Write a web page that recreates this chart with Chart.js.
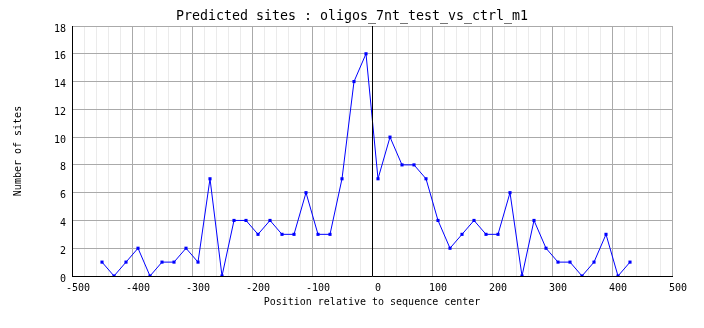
<!DOCTYPE html>
<html>
<head>
<meta charset="utf-8">
<script src="https://cdn.jsdelivr.net/npm/chart.js@4/dist/chart.umd.min.js"></script>
<style>
  html, body { margin: 0; padding: 0; background: #fff; }
  #wrap { width: 704px; height: 328px; }
</style>
</head>
<body>
<div id="wrap"><canvas id="sitesChart" width="704" height="328"></canvas></div>
<script>
"use strict";

// Window centers along the sequence (bp) and site counts per window
const positions = [
  -450, -430, -410, -390, -370, -350, -330, -310, -290, -270,
  -250, -230, -210, -190, -170, -150, -130, -110, -90, -70,
  -50, -30, -10, 10, 30, 50, 70, 90, 110, 130,
  150, 170, 190, 210, 230, 250, 270, 290, 310, 330,
  350, 370, 390, 410, 430
];
const siteCounts = [
  1, 0, 1, 2, 0, 1, 1, 2, 1, 7,
  0, 4, 4, 3, 4, 3, 3, 6, 3, 3,
  7, 14, 16, 7, 10, 8, 8, 7, 4, 2,
  3, 4, 3, 3, 6, 0, 4, 2, 1, 1,
  0, 1, 3, 0, 1
];

// Axis ranges and tick steps
const xRange = [-500, 500];
const xMinorStep = 20;
const xMajorStep = 100;
const yRange = [0, 18];
const yStep = 2;

const chartTitle = 'Predicted sites : oligos_7nt_test_vs_ctrl_m1';
const mono = "'DejaVu Sans Mono', 'Liberation Mono', monospace";

// Title centered on the whole canvas, not just the plot box
const pageTitle = {
  id: 'pageTitle',
  afterDraw(chart) {
    const { ctx, width } = chart;
    ctx.save();
    ctx.fillStyle = '#000';
    ctx.font = '13.3px ' + mono;
    ctx.textAlign = 'center';
    ctx.textBaseline = 'middle';
    ctx.fillText(chartTitle, width / 2, 17);
    ctx.restore();
  }
};

// Vertical black line marking the sequence center
const centerLine = {
  id: 'centerLine',
  afterDatasetsDraw(chart) {
    const { ctx, chartArea, scales } = chart;
    const px = Math.round(scales.x.getPixelForValue(0)) + 0.5;
    ctx.save();
    ctx.strokeStyle = '#000';
    ctx.lineWidth = 1;
    ctx.beginPath();
    ctx.moveTo(px, chartArea.top);
    ctx.lineTo(px, chartArea.bottom);
    ctx.stroke();
    ctx.restore();
  }
};

const ctx = document.getElementById('sitesChart').getContext('2d');
const chart = new Chart(ctx, {
  type: 'line',
  data: {
    datasets: [{
      data: positions.map((p, i) => ({ x: p, y: siteCounts[i] })),
      borderColor: '#0000ff',
      borderWidth: 1,
      backgroundColor: '#0000ff',
      pointStyle: 'rect',
      pointRadius: 2.2,
      pointBorderWidth: 0,
      pointBackgroundColor: '#0000ff',
      tension: 0,
      fill: false
    }]
  },
  options: {
    responsive: false,
    animation: false,
    layout: { padding: { left: 0, right: 32, top: 26, bottom: 0 } },
    plugins: {
      legend: { display: false },
      tooltip: { enabled: false },
      title: { display: false }
    },
    scales: {
      x: {
        type: 'linear',
        min: xRange[0],
        max: xRange[1],
        afterFit: s => { s.height = 52; },
        grid: {
          drawTicks: false,
          color: c => (c.tick && c.tick.value % xMajorStep === 0) ? '#aaaaaa' : '#ebebeb',
          lineWidth: 1
        },
        border: { display: true, color: '#000', width: 1 },
        ticks: {
          stepSize: xMinorStep,
          autoSkip: false,
          maxRotation: 0,
          minRotation: 0,
          padding: 6,
          labelOffset: 6,
          color: '#000',
          font: { family: mono, size: 10 },
          callback: v => (v % xMajorStep === 0 ? String(v) : '')
        },
        title: {
          display: true,
          text: 'Position relative to sequence center',
          color: '#000',
          font: { family: mono, size: 10 },
          padding: { top: 0, bottom: 20 }
        }
      },
      y: {
        min: yRange[0],
        max: yRange[1],
        afterFit: s => { s.width = 72; },
        grid: { drawTicks: false, color: '#aaaaaa', lineWidth: 1 },
        border: { display: true, color: '#000', width: 1 },
        ticks: {
          stepSize: yStep,
          padding: 6,
          labelOffset: 3,
          color: '#000',
          font: { family: mono, size: 10 }
        },
        title: {
          display: true,
          text: 'Number of sites',
          color: '#000',
          font: { family: mono, size: 10 },
          padding: { top: 12, bottom: 0 }
        }
      }
    }
  },
  plugins: [centerLine, pageTitle]
});
</script>
</body>
</html>
